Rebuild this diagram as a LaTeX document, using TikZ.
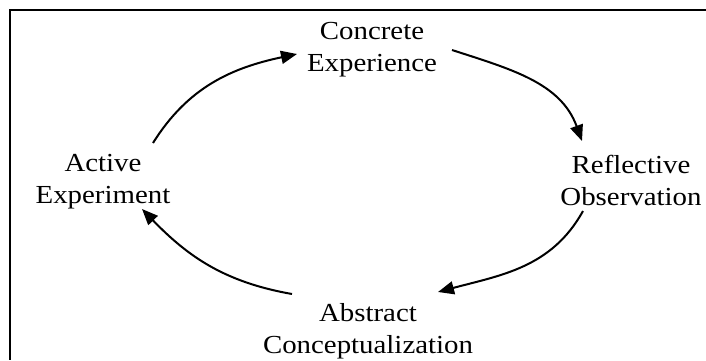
\documentclass[tikz,border=0pt]{standalone}
\usepackage{fontspec}
\setmainfont{Liberation Serif}[FakeStretch=1.11]
\usetikzlibrary{arrows.meta}
\begin{document}
\begin{tikzpicture}[x=1pt,y=1pt,
  lbl/.style={align=center,inner sep=0pt,anchor=base,font=\fontsize{26}{32}\selectfont},
  cyc/.style={line width=2pt,-{Triangle[length=16pt,width=13pt]}},
  frame/.style={line width=2pt}]
\useasboundingbox (0,0) rectangle (706,360);
\draw[frame] (706,350) -- (9.5,350) -- (9.5,0);
\node[lbl] (ce) at (372,288.5) {Concrete\\Experience};
\node[lbl] (ro) at (631,155) {Reflective\\Observation};
\node[lbl] (ac) at (368,6.7) {Abstract\\Conceptualization};
\node[lbl] (ae) at (103,157) {Active\\Experiment};
\coordinate (s1) at (153,217); \coordinate (e1) at (297,306);
\coordinate (s2) at (452,310); \coordinate (e2) at (582,219);
\coordinate (s3) at (583,149); \coordinate (e3) at (438,68);
\coordinate (s4) at (292,66);  \coordinate (e4) at (142,151);
\draw[cyc] (s1) to[out=58,in=192] (e1);
\draw[cyc] (s2) to[out=-18,in=110] (e2);
\draw[cyc] (s3) to[out=-119,in=15] (e3);
\draw[cyc] (s4) to[out=170,in=-46] (e4);
\end{tikzpicture}
\end{document}
